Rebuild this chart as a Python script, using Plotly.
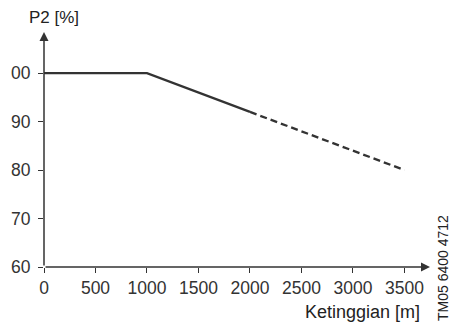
import plotly.graph_objects as go

# Derating curve: output power P2 vs. installation altitude
alt_solid = [0, 1000, 2000]
p2_solid = [100, 100, 92]
alt_dash = [2000, 3500]
p2_dash = [92, 80]

x_ticks = [0, 500, 1000, 1500, 2000, 2500, 3000, 3500]
y_ticks = [60, 70, 80, 90, 100]
y_tick_text = ["60", "70", "80", "90", "00"]

X_MAX = 3748
Y_MIN, Y_MAX = 60, 108.5
INK = "#333333"
FONT = "Liberation Sans, Arial, sans-serif"

W, H = 463, 325
ML, MR, MT, MB = 44, 33, 32, 58
pw, ph = W - ML - MR, H - MT - MB


def px(x):
    return (x - ML) / pw


def py(y):
    return (H - MB - y) / ph


fig = go.Figure()
fig.add_trace(go.Scatter(x=alt_solid, y=p2_solid, mode="lines",
                         line=dict(color=INK, width=2.3), hoverinfo="skip"))
fig.add_trace(go.Scatter(x=alt_dash, y=p2_dash, mode="lines",
                         line=dict(color=INK, width=2.3, dash="7px,4px"),
                         hoverinfo="skip"))

# Axis lines with arrowheads
fig.add_annotation(x=0, y=Y_MAX, ax=0, ay=Y_MIN, xref="x", yref="y",
                   axref="x", ayref="y", showarrow=True, arrowhead=2,
                   arrowsize=1.2, arrowwidth=1.5, arrowcolor=INK, text="")
fig.add_annotation(x=X_MAX, y=Y_MIN, ax=0, ay=Y_MIN, xref="x", yref="y",
                   axref="x", ayref="y", showarrow=True, arrowhead=2,
                   arrowsize=1.2, arrowwidth=1.5, arrowcolor=INK, text="")

fig.add_annotation(x=px(27), y=py(18), xref="paper", yref="paper",
                   text="P2 [%]", showarrow=False, xanchor="left",
                   yanchor="middle", font=dict(size=17, color="#222", family=FONT))
fig.add_annotation(x=px(422), y=py(312), xref="paper", yref="paper",
                   text="Ketinggian [m]", showarrow=False, xanchor="right",
                   yanchor="middle", font=dict(size=18, color="#222", family=FONT))
fig.add_annotation(x=px(443), y=py(268), xref="paper", yref="paper",
                   text="TM05 6400 4712", showarrow=False, textangle=-90,
                   xanchor="center", yanchor="middle",
                   font=dict(size=14, color="#222", family=FONT))

fig.update_layout(
    width=W, height=H,
    margin=dict(l=ML, r=MR, t=MT, b=MB),
    paper_bgcolor="white", plot_bgcolor="white",
    showlegend=False,
    font=dict(family=FONT, color=INK, size=17),
)

fig.update_xaxes(range=[0, X_MAX], tickvals=x_ticks, showgrid=False,
                 zeroline=False, showline=False, ticks="outside", ticklen=5,
                 tickwidth=1.2, tickcolor=INK, tickfont=dict(size=17.5, color=INK))
fig.update_yaxes(range=[Y_MIN, Y_MAX], tickvals=y_ticks, ticktext=y_tick_text,
                 showgrid=False, zeroline=False, showline=False, ticks="outside",
                 ticklen=5, tickwidth=1.2, tickcolor=INK,
                 tickfont=dict(size=17.5, color=INK), ticklabelstandoff=4)

fig.write_html("out.html")
